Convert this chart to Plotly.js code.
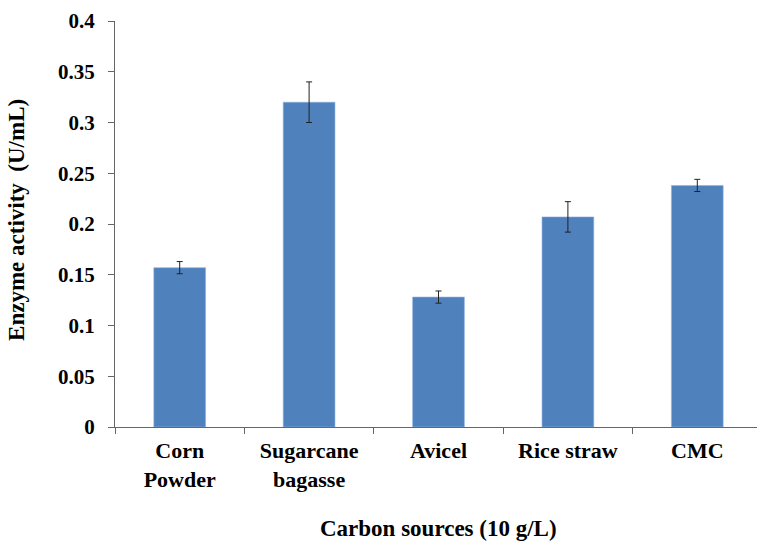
<!DOCTYPE html>
<html>
<head>
<meta charset="utf-8">
<script src="https://cdn.plot.ly/plotly-3.0.1.min.js"></script>
<style>
html,body{margin:0;padding:0;overflow:hidden;background:#fff;}
#chart{width:765px;height:543px;}
</style>
</head>
<body>
<div id="chart"></div>
<script>
const categories = ["Corn<br>Powder", "Sugarcane<br>bagasse", "Avicel", "Rice straw", "CMC"];
const activity = [0.157, 0.32, 0.128, 0.207, 0.238];
const activityErr = [0.006, 0.02, 0.006, 0.015, 0.006];
const yTicks = [0, 0.05, 0.1, 0.15, 0.2, 0.25, 0.3, 0.35, 0.4];
const yTickText = ["0", "0.05", "0.1", "0.15", "0.2", "0.25", "0.3", "0.35", "0.4"];

const font = {family: "Liberation Serif, Times New Roman, serif", color: "#000"};

const trace = {
  type: "bar",
  x: categories,
  y: activity,
  width: 0.4,
  marker: {color: "#4F81BD", line: {color: "#8EB4E3", width: 0.6}},
  error_y: {type: "data", array: activityErr, visible: true, color: "#222", thickness: 1, width: 3}
};

const layout = {
  width: 765, height: 543,
  margin: {l: 115, r: 3, t: 21, b: 116},
  paper_bgcolor: "#fff", plot_bgcolor: "#fff",
  showlegend: false,
  xaxis: {
    type: "category",
    showline: true, linecolor: "#666", linewidth: 1,
    ticks: "outside", ticklen: 6, tickcolor: "#666", tickson: "boundaries",
    showgrid: false, zeroline: false,
    ticklabelstandoff: 4,
    tickfont: Object.assign({size: 22, weight: "bold"}, font)
  },
  yaxis: {
    range: [0, 0.4],
    tickvals: yTicks, ticktext: yTickText,
    showline: true, linecolor: "#666", linewidth: 1,
    ticks: "outside", ticklen: 6, tickcolor: "#666",
    showgrid: false, zeroline: false,
    ticklabelstandoff: 9,
    tickfont: Object.assign({size: 21, weight: "bold"}, font)
  },
  annotations: [{
    text: "Carbon sources (10 g/L)",
    xref: "paper", yref: "paper", x: 0.5, y: -0.25,
    xanchor: "center", yanchor: "middle", showarrow: false,
    font: Object.assign({size: 23, weight: "bold"}, font)
  }, {
    text: "Enzyme activity  (U/mL)",
    xref: "paper", yref: "paper", x: 0, y: 0.51, xshift: -98,
    xanchor: "center", yanchor: "middle", textangle: -90, showarrow: false,
    font: Object.assign({size: 23, weight: "bold"}, font)
  }]
};

Plotly.newPlot("chart", [trace], layout, {displayModeBar: false, staticPlot: true});
</script>
</body>
</html>
